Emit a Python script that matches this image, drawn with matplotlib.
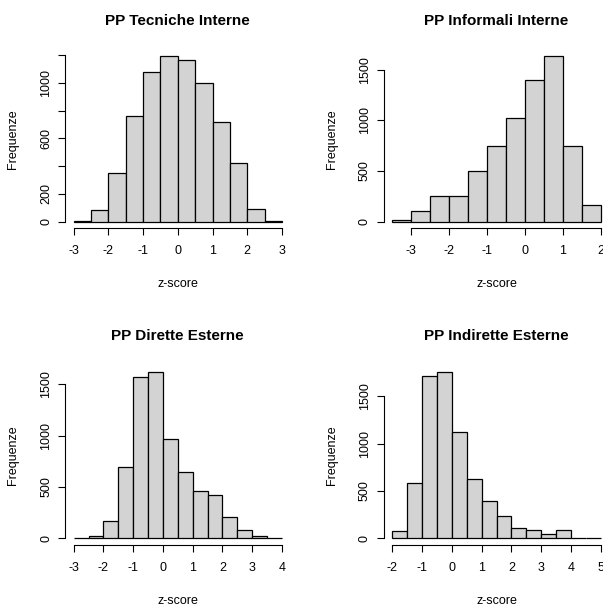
import numpy as np
import matplotlib
matplotlib.use("Agg")
import matplotlib.pyplot as plt

plt.rcParams['font.family'] = ['Liberation Sans', 'DejaVu Sans']

titles = ["PP Tecniche Interne", "PP Informali Interne",
          "PP Dirette Esterne", "PP Indirette Esterne"]

breaks_tecniche = [-3, -2.5, -2, -1.5, -1, -0.5, 0, 0.5, 1, 1.5, 2, 2.5, 3]
counts_tecniche = [7, 87, 351, 760, 1079, 1192, 1166, 998, 716, 421, 94, 7]

breaks_informali = [-3.5, -3, -2.5, -2, -1.5, -1, -0.5, 0, 0.5, 1, 1.5, 2]
counts_informali = [13, 102, 257, 257, 500, 750, 1020, 1401, 1632, 750, 164]

breaks_dirette = [-3, -2.5, -2, -1.5, -1, -0.5, 0, 0.5, 1, 1.5, 2, 2.5, 3, 3.5, 4]
counts_dirette = [0, 19, 166, 698, 1568, 1617, 964, 643, 464, 419, 211, 84, 19, 0]

breaks_indirette = [-2, -1.5, -1, -0.5, 0, 0.5, 1, 1.5, 2, 2.5, 3, 3.5, 4, 4.5, 5]
counts_indirette = [81, 588, 1718, 1754, 1123, 623, 391, 239, 109, 88, 42, 88, 7, 0]

xticks_list = [[-3, -2, -1, 0, 1, 2, 3], [-3, -2, -1, 0, 1, 2],
               [-3, -2, -1, 0, 1, 2, 3, 4], [-2, -1, 0, 1, 2, 3, 4, 5]]
yticks_list = [[0, 200, 400, 600, 800, 1000, 1200], [0, 500, 1000, 1500],
               [0, 500, 1000, 1500], [0, 500, 1000, 1500]]
ylabels_list = [["0", "200", "", "600", "", "1000", ""], ["0", "500", "1000", "1500"],
                ["0", "500", "1000", "1500"], ["0", "500", "1000", "1500"]]

data = [(breaks_tecniche, counts_tecniche), (breaks_informali, counts_informali),
        (breaks_dirette, counts_dirette), (breaks_indirette, counts_indirette)]

W, H = 603, 605
fig = plt.figure(figsize=(W / 100, H / 100), dpi=100)

cols = [(65.3, 290.3), (384.0, 609.0)]
rows = [(49.7, 228.3), (365.6, 545.0)]

for i in range(4):
    r, c = divmod(i, 2)
    x0, x1 = cols[c]
    t0, b0 = rows[r]
    ax = fig.add_axes([x0 / W, 1 - b0 / H, (x1 - x0) / W, (b0 - t0) / H])
    brk, cnt = data[i]
    brk = np.array(brk)
    ax.bar(brk[:-1], cnt, width=np.diff(brk), align='edge',
           color='#D3D3D3', edgecolor='black', linewidth=0.9)
    xr = brk[-1] - brk[0]
    ax.set_xlim(brk[0] - 0.04 * xr, brk[-1] + 0.04 * xr)
    ymax = max(cnt)
    ax.set_ylim(-0.04 * ymax, ymax * 1.04)
    for s in ['top', 'right']:
        ax.spines[s].set_visible(False)
    xt = xticks_list[i]
    yt = yticks_list[i]
    ax.spines['bottom'].set_bounds(xt[0], xt[-1])
    ax.spines['left'].set_bounds(yt[0], yt[-1])
    for s in ['bottom', 'left']:
        ax.spines[s].set_linewidth(0.8)
    ax.set_xticks(xt)
    ax.set_xticklabels([str(v) for v in xt])
    ax.set_yticks(yt)
    ax.set_yticklabels(ylabels_list[i], rotation=90, va='center')
    ax.tick_params(axis='both', direction='out', length=5, width=0.8,
                   labelsize=9, colors='black')
    ax.tick_params(axis='x', pad=7)
    ax.tick_params(axis='y', pad=4.5)
    ax.set_xlabel("z-score", fontsize=9, labelpad=15)
    ax.set_ylabel("Frequenze", fontsize=9, labelpad=15)
    ax.annotate(titles[i], xy=(0.5, 1), xycoords='axes fraction',
                xytext=(0, 21), textcoords='offset points',
                ha='center', va='center', fontsize=11, fontweight='bold')

fig.savefig("out.png", dpi=100)
